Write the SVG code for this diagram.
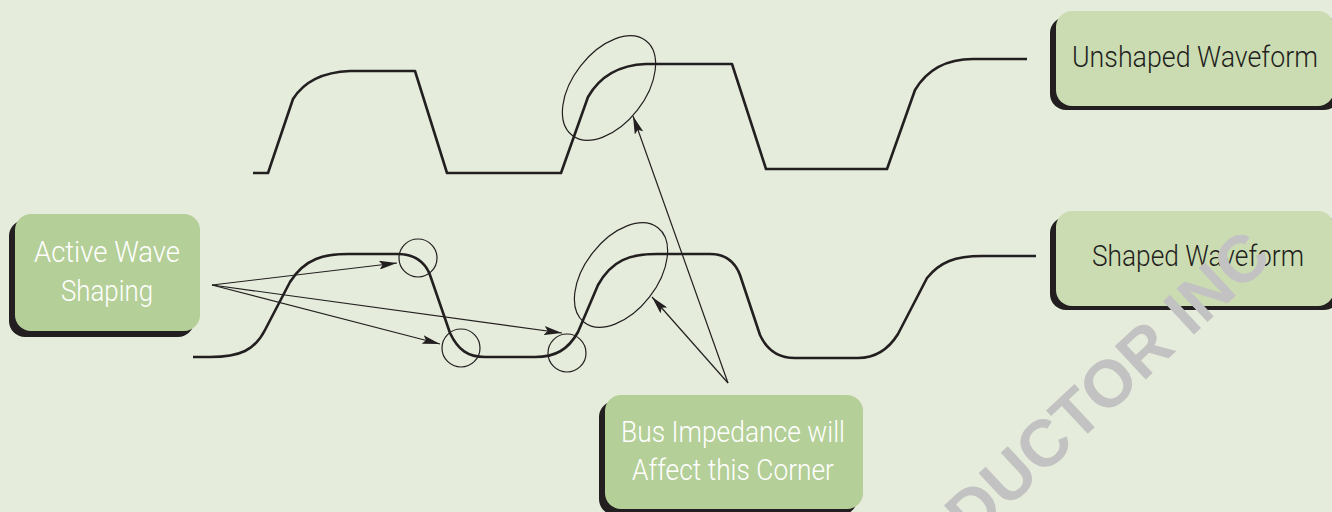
<svg xmlns="http://www.w3.org/2000/svg" width="1332" height="512" viewBox="0 0 1332 512">
<defs>
<style>
.wave{fill:none;stroke:#231f20;stroke-width:2.6;stroke-linejoin:round}
.ring{fill:none;stroke:#231f20;stroke-width:1.2}
.conn{fill:none;stroke:#231f20;stroke-width:1.2}
.shadow{fill:#231f20}
.boxA{fill:#b5cf98}
.boxB{fill:#cbdcb2}
.lblW{font-family:Roboto,"Liberation Sans",sans-serif;font-weight:300;font-size:30px;fill:#ffffff;text-anchor:middle}
.lblD{font-family:Roboto,"Liberation Sans",sans-serif;font-weight:300;font-size:30px;fill:#231f20;text-anchor:middle}
.wm{font-family:"Liberation Sans",Arial,sans-serif;font-weight:bold;font-size:66px;fill:#c2c2c2}
</style>
<marker id="ah" viewBox="0 0 18 9" refX="18" refY="4.5" markerWidth="18" markerHeight="9" markerUnits="userSpaceOnUse" orient="auto">
<path d="M0,0 L18,4.5 L0,9 L3.5,4.5 z" fill="#231f20"/>
</marker>
</defs>
<rect width="1332" height="512" fill="#e5ecdb"/>

<g id="waveforms">
<path id="unshaped-wave" class="wave" d="M253,173 H268 L293,99 C305,80 325,72 350,71 H415 L447,173 H561 L588,97 C600,76 620,65 646,64 H732 L766,169 H887 L915,90 C927,70 947,59 973,59 H1027"/>
<path id="shaped-wave" class="wave" d="M193,357 H210 C240,357 255,350 265,330 L290,282 C305,258 325,254 348,254 H397 C415,254 425,262 430,275 L450,333 C458,350 468,357 485,357 H535 C555,357 568,350 578,332 L598,285 C612,260 630,254 657,254 H710 C725,254 735,262 740,275 L760,335 C767,350 778,358 795,358 H858 C875,358 888,350 898,334 L927,278 C940,262 955,256 982,256 H1036"/>
</g>

<g id="highlights">
<ellipse class="ring" cx="609" cy="88" rx="60" ry="36" transform="rotate(-52 609 88)"/>
<ellipse class="ring" cx="621" cy="275" rx="60" ry="36" transform="rotate(-52 621 275)"/>
<circle class="ring" cx="418" cy="258" r="19"/>
<circle class="ring" cx="461" cy="348" r="19"/>
<circle class="ring" cx="567" cy="353" r="19"/>
</g>

<g id="connectors">
<line class="conn" x1="212" y1="285" x2="397" y2="263" marker-end="url(#ah)"/>
<line class="conn" x1="212" y1="285" x2="440" y2="344" marker-end="url(#ah)"/>
<line class="conn" x1="212" y1="285" x2="562" y2="333" marker-end="url(#ah)"/>
<line class="conn" x1="728" y1="383" x2="652" y2="297" marker-end="url(#ah)"/>
<line class="conn" x1="728" y1="383" x2="633" y2="116" marker-end="url(#ah)"/>
</g>

<g id="node-active">
<rect class="shadow" x="9" y="220" width="185" height="117" rx="16"/>
<rect class="boxA" x="15" y="214" width="185" height="117" rx="16"/>
<text class="lblW" x="107" y="262" textLength="146" lengthAdjust="spacingAndGlyphs">Active Wave</text>
<text class="lblW" x="107" y="301" textLength="92" lengthAdjust="spacingAndGlyphs">Shaping</text>
</g>

<g id="node-unshaped">
<rect class="shadow" x="1050" y="17" width="290" height="93" rx="16"/>
<rect class="boxB" x="1056" y="11" width="278" height="95" rx="16"/>
<text class="lblD" x="1195" y="67" textLength="246" lengthAdjust="spacingAndGlyphs">Unshaped Waveform</text>
</g>

<g id="node-shaped">
<rect class="shadow" x="1050" y="217" width="290" height="93" rx="16"/>
<rect class="boxB" x="1056" y="211" width="278" height="95" rx="16"/>
<text class="lblD" x="1198" y="266" textLength="212" lengthAdjust="spacingAndGlyphs">Shaped Waveform</text>
</g>

<g id="node-bus">
<rect class="shadow" x="599" y="401" width="258" height="114" rx="16"/>
<rect class="boxA" x="605" y="395" width="258" height="114" rx="16"/>
<text class="lblW" x="733" y="442" textLength="224" lengthAdjust="spacingAndGlyphs">Bus Impedance will</text>
<text class="lblW" x="733" y="480" textLength="202" lengthAdjust="spacingAndGlyphs">Affect this Corner</text>
</g>

<text class="wm" transform="translate(1274 260) rotate(-43)" text-anchor="end">DUCTOR INC</text>
</svg>
